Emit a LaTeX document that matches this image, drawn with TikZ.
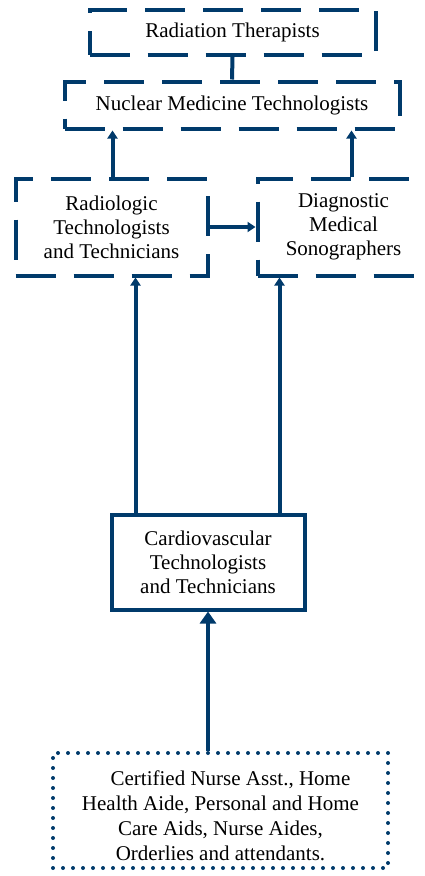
\documentclass[tikz,border=0pt]{standalone}
\usepackage{fontspec}
\setmainfont{Liberation Serif}
\usetikzlibrary{arrows.meta}
\definecolor{navy}{HTML}{003A6B}
\tikzset{
  jobbox/.style={draw=navy, line width=4pt, inner sep=0pt, align=center,
    font=\rmfamily\fontsize{21}{24}\selectfont},
  dashbox/.style={jobbox, dash pattern=on 40pt off 18pt},
  solidbox/.style={jobbox},
  dotbox/.style={jobbox, line cap=round, dash pattern=on 0pt off 10pt,
    font=\rmfamily\fontsize{21}{25}\selectfont},
  link/.style={draw=navy, line width=4pt, -{Triangle[width=10pt,length=8pt]}},
  biglink/.style={link, -{Triangle[width=16pt,length=12pt]}}
}
\begin{document}
\begin{tikzpicture}[x=1pt,y=-1pt]
    \useasboundingbox (0,0) rectangle (425,876);

    % Boxes
    \node[dashbox, minimum width=286pt, minimum height=45pt] (rt) at (232.5,32.5) {Radiation Therapists};
    \node[dashbox, minimum width=335pt, minimum height=47pt] (nm) at (232,105) {Nuclear Medicine Technologists};
    \node[dashbox, minimum width=192pt, minimum height=97pt] (rad) at (111.5,227) {Radiologic\\Technologists\\and Technicians};
    \node[dashbox, minimum width=172pt, minimum height=97pt] (dms) at (343.5,227) {Diagnostic\\Medical\\Sonographers};
    \node[solidbox, minimum width=193pt, minimum height=95pt] (cv) at (208,562) {Cardiovascular\\Technologists\\and Technicians};
    \node[dotbox, minimum width=335pt, minimum height=115pt] (cna) at (220.5,810.5)
      {\rule{0pt}{25pt}\hspace*{20pt}Certified Nurse Asst., Home\\Health Aide, Personal and Home\\Care Aids, Nurse Aides,\\Orderlies and attendants.};

    % Connectors
    \draw[draw=navy, line width=4pt] (rt.south) -- (nm.north);
    \draw[link] ([xshift=1pt]rad.north) -- ([xshift=1pt]rad.north |- nm.south);
    \draw[link] ([xshift=8pt]dms.north) -- ([xshift=8pt]dms.north |- nm.south);
    \draw[link] (rad.east) -- (dms.west);
    \draw[link] ([xshift=-72.5pt]cv.north) -- ([xshift=-72.5pt]cv.north |- rad.south);
    \draw[link] ([xshift=71.5pt]cv.north) -- ([xshift=71.5pt]cv.north |- dms.south);
    \draw[biglink] (cna.north -| cv.south) -- (cv.south);
\end{tikzpicture}
\end{document}
